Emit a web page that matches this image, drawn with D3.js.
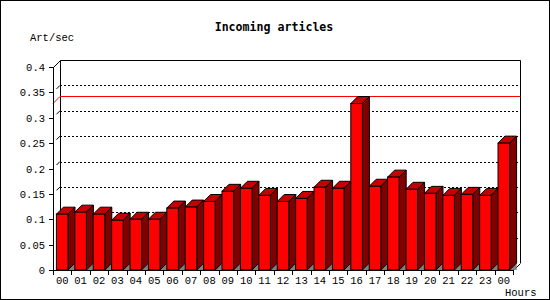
<!DOCTYPE html>
<html>
<head>
<meta charset="utf-8">
<script src="https://cdn.jsdelivr.net/npm/d3@7"></script>
<style>
  html, body { margin: 0; padding: 0; background: #fff; }
  svg text { font-family: "Liberation Mono", "DejaVu Sans Mono", monospace; fill: #000; }
  svg text.title { font-family: "DejaVu Sans Mono", "Liberation Mono", monospace; }
</style>
</head>
<body>
<svg id="chart" width="550" height="300"></svg>
<script>
// hourly incoming article rate
const hours = ['00', '01', '02', '03', '04', '05', '06', '07', '08', '09', '10', '11',
  '12', '13', '14', '15', '16', '17', '18', '19', '20', '21', '22', '23', '00']
const rates = [0.110, 0.114, 0.110, 0.098, 0.100, 0.100, 0.122, 0.124, 0.135, 0.155, 0.161, 0.147,
  0.135, 0.141, 0.163, 0.161, 0.328, 0.165, 0.183, 0.159, 0.151, 0.147, 0.149, 0.147, 0.250]
const yTicks = [0, 0.05, 0.1, 0.15, 0.2, 0.25, 0.3, 0.35, 0.4]
const gridTicks = [0.05, 0.1, 0.15, 0.2, 0.25, 0.3, 0.35]

const W = 550
const H = 300
const depth = 7
const plot = { left: 53, right: 513, top: 67, bottom: 270 }

const svg = d3.select('#chart')

const x = d3.scaleBand()
  .domain(d3.range(rates.length))
  .range([plot.left, plot.right])
  .padding(0)
const y = d3.scaleLinear()
  .domain([0, 0.4])
  .range([plot.bottom, plot.top])

const barW = x.bandwidth() * 0.63
const barX = (i) => x(i) + (x.bandwidth() - barW) / 2

// frame
svg.append('rect')
  .attr('x', 0.5).attr('y', 0.5)
  .attr('width', W - 1).attr('height', H - 1)
  .attr('fill', '#fff')
  .attr('stroke', '#000')

// back plane grid
const back = svg.append('g')
back.selectAll('line.grid')
  .data(gridTicks)
  .join('line')
  .attr('class', 'grid')
  .attr('x1', plot.left + depth)
  .attr('x2', plot.right + depth)
  .attr('y1', (d) => Math.round(y(d)) - depth + 0.5)
  .attr('y2', (d) => Math.round(y(d)) - depth + 0.5)
  .attr('stroke', '#000')
  .attr('stroke-dasharray', '2,2')

// little diagonals from front ticks toward the back wall
back.selectAll('line.diag')
  .data(gridTicks)
  .join('line')
  .attr('class', 'diag')
  .attr('x1', plot.left + depth / 2)
  .attr('y1', (d) => y(d) - depth / 2)
  .attr('x2', plot.left + depth)
  .attr('y2', (d) => y(d) - depth)
  .attr('stroke', '#000')

// back wall outline: top, left, right + corner diagonals
const box = [
  [[plot.left + depth + 0.5, plot.bottom - depth], [plot.left + depth + 0.5, plot.top - depth + 0.5],
    [plot.right + depth + 0.5, plot.top - depth + 0.5], [plot.right + depth + 0.5, plot.bottom - depth]],
  [[plot.left + 0.5, plot.top + 0.5], [plot.left + depth + 0.5, plot.top - depth + 0.5]],
  [[plot.right + 0.5, plot.bottom + 0.5], [plot.right + depth + 0.5, plot.bottom - depth + 0.5]]
]
back.selectAll('path.box')
  .data(box)
  .join('path')
  .attr('class', 'box')
  .attr('d', d3.line())
  .attr('fill', 'none')
  .attr('stroke', '#000')

// peak line
const peak = d3.max(rates)
const peakY = Math.floor(y(peak))
back.append('path')
  .attr('d', d3.line()([
    [plot.left, peakY + 0.5],
    [plot.left + depth, peakY - depth + 0.5],
    [plot.right + depth, peakY - depth + 0.5]
  ]))
  .attr('fill', 'none')
  .attr('stroke', '#ff0000')

// 3d bars
const bars = svg.append('g')
  .selectAll('g.bar')
  .data(rates)
  .join('g')
  .attr('class', 'bar')

bars.append('path')
  .attr('d', (d, i) => {
    const xr = barX(i) + barW
    return d3.line()([[xr, plot.bottom], [xr + depth, plot.bottom - depth], [xr + depth, plot.bottom]]) + 'Z'
  })
  .attr('fill', '#808080')

bars.append('path')
  .attr('d', (d, i) => {
    const x0 = barX(i)
    const x1 = x0 + barW
    return d3.line()([[x0, y(d)], [x0 + depth, y(d) - depth], [x1 + depth, y(d) - depth], [x1, y(d)]]) + 'Z'
  })
  .attr('fill', '#c40000')
  .attr('stroke', '#000')
  .attr('stroke-linejoin', 'round')

bars.append('path')
  .attr('d', (d, i) => {
    const x1 = barX(i) + barW
    return d3.line()([[x1, y(d)], [x1 + depth, y(d) - depth], [x1 + depth, plot.bottom - depth], [x1, plot.bottom]]) + 'Z'
  })
  .attr('fill', '#800000')
  .attr('stroke', '#000')
  .attr('stroke-linejoin', 'round')

bars.append('rect')
  .attr('x', (d, i) => barX(i))
  .attr('y', (d) => y(d))
  .attr('width', barW)
  .attr('height', (d) => plot.bottom - y(d))
  .attr('fill', '#ff0000')
  .attr('stroke', '#000')

// front axes
const axes = svg.append('g')
axes.append('line')
  .attr('x1', plot.left + 0.5).attr('x2', plot.left + 0.5)
  .attr('y1', plot.top).attr('y2', plot.bottom + 0.5)
  .attr('stroke', '#000')
axes.append('line')
  .attr('x1', plot.left).attr('x2', plot.right + 0.5)
  .attr('y1', plot.bottom + 0.5).attr('y2', plot.bottom + 0.5)
  .attr('stroke', '#000')

axes.selectAll('line.ytick')
  .data(yTicks)
  .join('line')
  .attr('class', 'ytick')
  .attr('x1', plot.left - 4)
  .attr('x2', plot.left)
  .attr('y1', (d) => Math.round(y(d)) + 0.5)
  .attr('y2', (d) => Math.round(y(d)) + 0.5)
  .attr('stroke', '#000')

axes.selectAll('text.ylabel')
  .data(yTicks)
  .join('text')
  .attr('class', 'ylabel')
  .attr('x', plot.left - 8)
  .attr('y', (d) => y(d) + 4)
  .attr('text-anchor', 'end')
  .attr('font-size', 10.5)
  .text((d) => d3.format('')(+d.toFixed(2)))

axes.selectAll('line.xtick')
  .data(d3.range(rates.length + 1))
  .join('line')
  .attr('class', 'xtick')
  .attr('x1', (i) => Math.round(plot.left + i * x.step()) + 0.5)
  .attr('x2', (i) => Math.round(plot.left + i * x.step()) + 0.5)
  .attr('y1', plot.bottom)
  .attr('y2', plot.bottom + 5)
  .attr('stroke', '#000')

axes.selectAll('text.xlabel')
  .data(hours)
  .join('text')
  .attr('class', 'xlabel')
  .attr('x', (d, i) => x(i) + x.bandwidth() / 2)
  .attr('y', plot.bottom + 14)
  .attr('text-anchor', 'middle')
  .attr('font-size', 10.5)
  .text((d) => d)

// titles
svg.append('text')
  .attr('class', 'title')
  .attr('x', 274)
  .attr('y', 31)
  .attr('text-anchor', 'middle')
  .attr('font-size', 11.6)
  .attr('font-weight', 'bold')
  .text('Incoming articles')

svg.append('text')
  .attr('x', 30)
  .attr('y', 41)
  .attr('font-size', 10.5)
  .text('Art/sec')

svg.append('text')
  .attr('x', 505)
  .attr('y', 296)
  .attr('font-size', 10.5)
  .text('Hours')
</script>
</body>
</html>
